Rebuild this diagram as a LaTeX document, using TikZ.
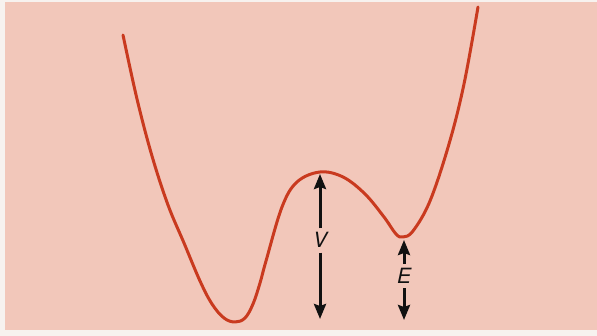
\documentclass[tikz,border=0pt]{standalone}
\usepackage{fontspec}
\setsansfont{TeX Gyre Heros}
\usetikzlibrary{arrows.meta}
\definecolor{paper}{HTML}{F7F2EF}
\definecolor{blush}{HTML}{F2C7BA}
\definecolor{rust}{HTML}{C93A1F}
\definecolor{ink}{HTML}{111111}
\tikzset{
  well/.style={draw=rust, line width=3pt, line cap=round, line join=round},
  bar/.style={draw=ink, line width=3pt, -{Stealth[length=15pt, width=12pt, inset=2pt]}},
  tag/.style={font=\sffamily\itshape\fontsize{21}{21}\selectfont, text=ink,
    text height=15pt, text depth=0pt, inner xsep=2pt, inner ysep=4.5pt},
}
\begin{document}
\begin{tikzpicture}[x=1pt,y=1pt]
  \useasboundingbox (0,0) rectangle (597,336);
  \fill[paper] (0,0) rectangle (597,336);
  \fill[blush] (5,6) rectangle (597,334);

  % potential curve
  \draw[well] plot[smooth, tension=0.6] coordinates {
    (123,301) (137,237) (152,180) (168,131) (184,93) (200,55) (212,32)
    (224,18) (235,14) (245,18) (253,32) (260,53) (266,75) (282,129)
    (297,154) (320,164) (343,159) (365,142) (384,119) (396,102) (403,99)
    (413,105) (430,135) (449,192) (464,252) (478,329)
  };

  % barrier and energy
  \coordinate (vtop) at (320,162);
  \coordinate (vbot) at (320,17);
  \coordinate (etop) at (404,96);
  \coordinate (ebot) at (404,16);
  \node[tag] (vlab) at (320,95.5) {V};
  \node[tag] (elab) at (404,60) {E};
  \draw[bar] (vlab) -- (vtop);
  \draw[bar] (vlab) -- (vbot);
  \draw[bar] (elab) -- (etop);
  \draw[bar] (elab) -- (ebot);
\end{tikzpicture}
\end{document}
